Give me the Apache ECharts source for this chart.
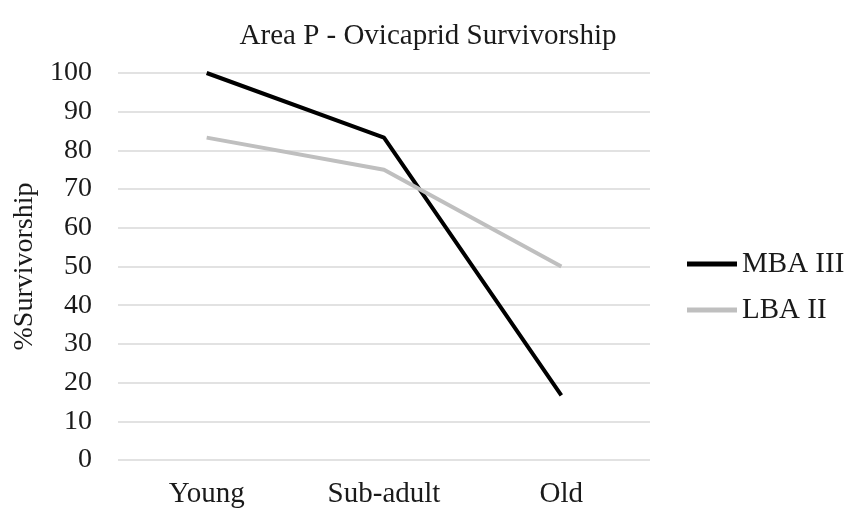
<!DOCTYPE html>
<html>
<head>
<meta charset="utf-8">
<script src="https://cdn.jsdelivr.net/npm/echarts@6/dist/echarts.min.js"></script>
<style>
    html, body { margin: 0; padding: 0; background: #fff; }
    #main { width: 861px; height: 509px; }
</style>
</head>
<body>
<div id="main"></div>
<script>
// age stages and survivorship (%)
var stages = ['Young', 'Sub-adult', 'Old'];
var mbaIII = [100, 83.3, 16.7];
var lbaII = [83.3, 75, 50];

var serif = '"Liberation Serif", "Times New Roman", serif';
var myChart = echarts.init(document.getElementById('main'));

var option = {
    backgroundColor: '#fff',
    animation: false,
    title: {
        text: 'Area P - Ovicaprid Survivorship',
        left: 423,
        textAlign: 'center',
        top: 17,
        textStyle: {
            fontFamily: serif,
            fontSize: 29,
            fontWeight: 'normal',
            color: '#1a1a1a'
        }
    },
    legend: {
        orient: 'vertical',
        left: 682,
        top: 244,
        itemWidth: 50,
        itemHeight: 5,
        itemGap: 16,
        icon: 'rect',
        textStyle: {
            fontFamily: serif,
            fontSize: 29,
            lineHeight: 30,
            color: '#1a1a1a'
        },
        data: ['MBA III', 'LBA II']
    },
    grid: {
        left: 118,
        right: 211,
        top: 73,
        bottom: 49
    },
    xAxis: {
        type: 'category',
        data: stages,
        axisLine: {show: false},
        axisTick: {show: false},
        axisLabel: {
            fontFamily: serif,
            fontSize: 29,
            color: '#1a1a1a',
            margin: 20
        }
    },
    yAxis: {
        type: 'value',
        min: 0,
        max: 100,
        interval: 10,
        name: '%Survivorship',
        nameLocation: 'middle',
        nameGap: 79,
        nameTextStyle: {
            fontFamily: serif,
            fontSize: 28,
            color: '#1a1a1a'
        },
        axisLabel: {
            fontFamily: serif,
            fontSize: 28,
            color: '#1a1a1a',
            margin: 26
        },
        splitLine: {
            lineStyle: {color: '#d9d9d9', width: 1.5}
        }
    },
    series: [
        {
            name: 'MBA III',
            type: 'line',
            data: mbaIII,
            symbol: 'none',
            itemStyle: {color: '#000'},
            lineStyle: {color: '#000', width: 4}
        },
        {
            name: 'LBA II',
            type: 'line',
            data: lbaII,
            symbol: 'none',
            itemStyle: {color: '#bfbfbf'},
            lineStyle: {color: '#bfbfbf', width: 4}
        }
    ]
};
myChart.setOption(option);
</script>
</body>
</html>
